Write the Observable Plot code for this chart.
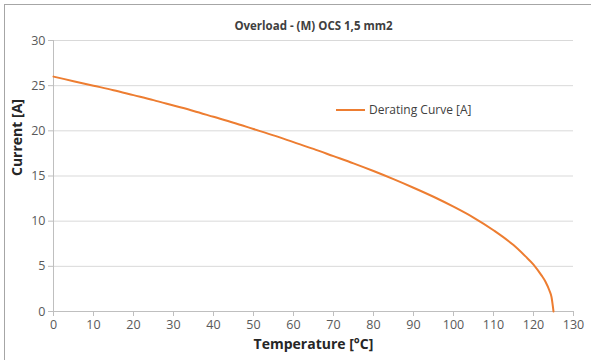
<!DOCTYPE html>
<html>
<head>
<meta charset="utf-8">
<script src="https://cdn.jsdelivr.net/npm/d3@7"></script>
<script src="https://cdn.jsdelivr.net/npm/@observablehq/plot@0.6"></script>
<style>
  html, body { margin: 0; padding: 0; background: #fff; }
  #wrap { position: relative; width: 591px; height: 360px; }
  #wrap svg { display: block; }
</style>
</head>
<body>
<div id="wrap"></div>
<script>
const temperature = [0, 5, 10, 15, 20, 25, 30, 35, 40, 45, 50, 55, 60, 65, 70, 75, 80, 85, 90, 95, 100, 105, 110, 115, 118, 120, 122, 123, 124, 124.5, 125];
const current =     [26.0, 25.5, 25.0, 24.5, 23.95, 23.4, 22.8, 22.2, 21.55, 20.9, 20.2, 19.5, 18.75, 18.0, 17.2, 16.4, 15.55, 14.65, 13.7, 12.7, 11.6, 10.4, 9.0, 7.35, 6.1, 5.2, 4.0, 3.3, 2.3, 1.6, 0];
const xTicks = [0, 10, 20, 30, 40, 50, 60, 70, 80, 90, 100, 110, 120, 130];
const yTicks = [0, 5, 10, 15, 20, 25, 30];
const title = "Overload - (M) OCS 1,5 mm2";
const xLabel = "Temperature [°C]";
const yLabel = "Current [A]";
const seriesName = "Derating Curve [A]";

const data = temperature.map((t, i) => ({t, c: current[i]}));
const orange = "#ED7D31";
const font = "Open Sans, Noto Sans, sans-serif";

const chart = Plot.plot({
  width: 591,
  height: 360,
  marginLeft: 53,
  marginRight: 18,
  marginTop: 40,
  marginBottom: 49,
  style: {fontFamily: font, fontSize: "12px", color: "#595959", background: "#fff"},
  x: {domain: [0, 130], ticks: xTicks, label: null},
  y: {domain: [0, 30], ticks: yTicks, label: null},
  marks: [
    Plot.gridY(yTicks.filter(d => d > 0), {stroke: "#d9d9d9", strokeOpacity: 1, strokeWidth: 1}),
    Plot.ruleY([0], {stroke: "#bfbfbf"}),
    Plot.ruleX([0], {stroke: "#bfbfbf"}),
    Plot.axisX({ticks: xTicks, tickSize: 5, tickPadding: 4, stroke: "#bfbfbf", fill: "#595959", fontSize: 12.5, label: null}),
    Plot.axisY({ticks: yTicks, tickSize: 5, tickPadding: 3, stroke: "#bfbfbf", fill: "#595959", fontSize: 12.5, label: null}),
    Plot.line(data, {x: "t", y: "c", stroke: orange, strokeWidth: 2, curve: "monotone-x"}),
    Plot.text([title], {frameAnchor: "top", dy: -19, fontWeight: "bold", fontSize: 11.5, fill: "#404040"}),
    Plot.text([xLabel], {frameAnchor: "bottom", dy: 37, fontWeight: "bold", fontSize: 14, fill: "#262626"}),
    Plot.text([yLabel], {frameAnchor: "left", dx: -36, rotate: -90, fontWeight: "bold", fontSize: 14, fill: "#262626"})
  ]
});
document.getElementById("wrap").appendChild(chart);

// legend inside the plot
const svg = d3.select(chart);
const lg = svg.append("g");
const lx = 336, ly = 110;
lg.append("line").attr("x1", lx).attr("x2", lx + 29).attr("y1", ly).attr("y2", ly)
  .attr("stroke", orange).attr("stroke-width", 2);
lg.append("text").attr("x", lx + 33).attr("y", ly).attr("dy", "0.35em")
  .attr("text-anchor", "start")
  .attr("font-size", 12).attr("fill", "#404040").attr("font-family", font).text(seriesName);
// chart border (top and left)
svg.append("line").attr("x1", 4).attr("x2", 591).attr("y1", 4.5).attr("y2", 4.5).attr("stroke", "#a6a6a6");
svg.append("line").attr("x1", 4.5).attr("x2", 4.5).attr("y1", 4).attr("y2", 360).attr("stroke", "#a6a6a6");
</script>
</body>
</html>
